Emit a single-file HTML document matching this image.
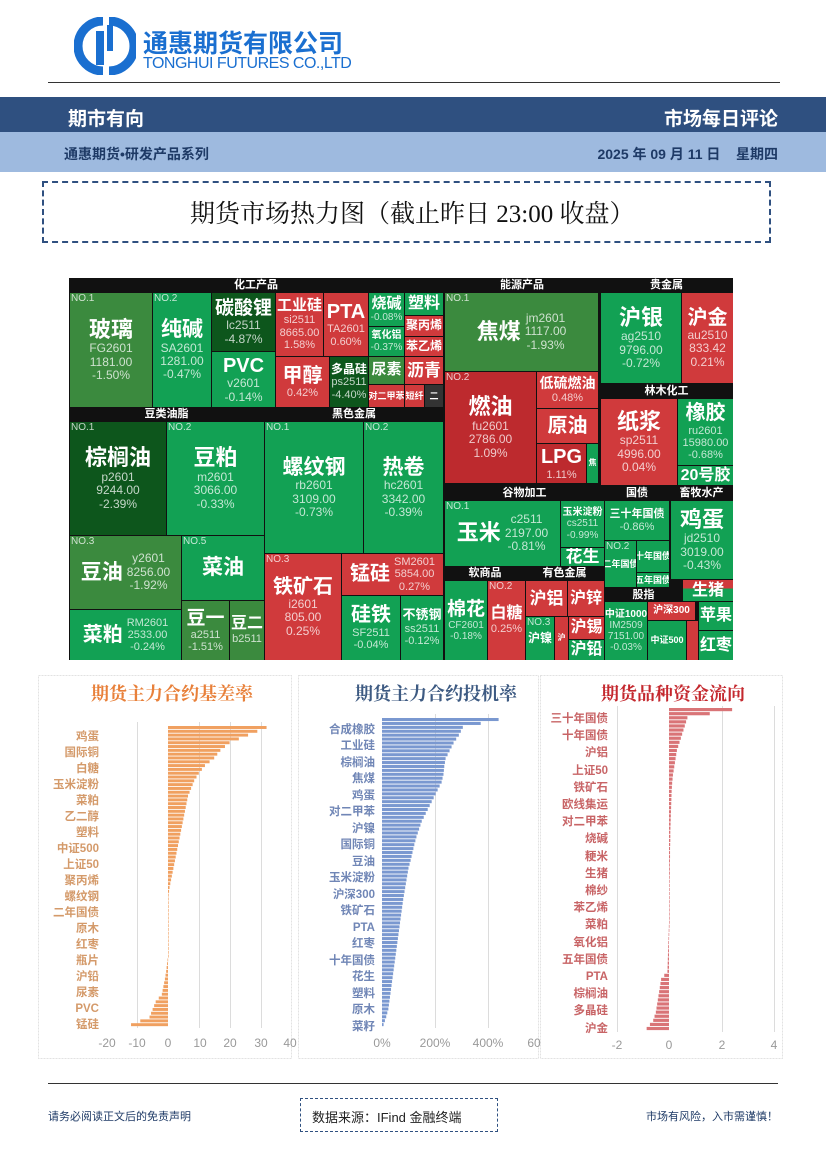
<!DOCTYPE html>
<html><head><meta charset="utf-8">
<style>
*{margin:0;padding:0;box-sizing:border-box}
body{width:826px;height:1169px;background:#fff;position:relative;overflow:hidden;font-family:"Liberation Sans","Noto Sans CJK SC",sans-serif}
.a{position:absolute}
.c{position:absolute;color:#fff;text-align:center;display:flex;flex-direction:column;justify-content:center;align-items:center;overflow:hidden;line-height:1.12;white-space:nowrap}
.r{flex-direction:row;gap:4px}
.n{font-weight:bold}
.s{font-size:12px;opacity:.75}
.no{position:absolute;left:1px;top:0;font-size:10px;opacity:.75}
.G{background:#12a154}.M{background:#3b8a3e}.D{background:#0d561c}.R{background:#d03a3c}.R2{background:#bd2a2e}
.h{position:absolute;color:#fff;font-size:11px;font-weight:bold;text-align:center;line-height:14px;height:14px}
</style></head><body>
<!-- header -->
<svg class="a" style="left:74px;top:17px" width="62" height="58" viewBox="0 0 62 58">
<path d="M29 4 A25 25 0 0 0 29 54" fill="none" stroke="#1a6fd0" stroke-width="9"/>
<path d="M35 4 A25 25 0 0 1 35 54" fill="none" stroke="#1a6fd0" stroke-width="9"/>
<rect x="22" y="14" width="8" height="34" fill="#1a6fd0"/><rect x="33" y="8" width="6" height="26" fill="#1a6fd0"/>
</svg>
<div class="a" style="left:143px;top:24px;font-size:25px;font-weight:bold;color:#1a6fd0;letter-spacing:0px">通惠期货有限公司</div>
<div class="a" style="left:143px;top:55px;font-size:16px;color:#1a6fd0;letter-spacing:-0.5px">TONGHUI FUTURES CO.,LTD</div>
<div class="a" style="left:48px;top:82px;width:732px;height:1px;background:#333"></div>
<div class="a" style="left:0;top:97px;width:826px;height:35px;background:#2f5080"></div>
<div class="a" style="left:68px;top:104px;font-size:19px;font-weight:bold;color:#fff">期市有向</div>
<div class="a" style="right:48px;top:104px;font-size:19px;font-weight:bold;color:#fff">市场每日评论</div>
<div class="a" style="left:0;top:132px;width:826px;height:40px;background:#9ebadf"></div>
<div class="a" style="left:64px;top:144px;font-size:14px;font-weight:bold;color:#1e3a66">通惠期货•研发产品系列</div>
<div class="a" style="right:48px;top:144px;font-size:14px;font-weight:bold;color:#1e3a66">2025 年 09 月 11 日 &nbsp;&nbsp; 星期四</div>
<div class="a" style="left:42px;top:181px;width:729px;height:62px;border:2px dashed #2f5080"></div>
<div class="a" style="left:190px;top:194px;font-size:25px;color:#111;font-family:'Liberation Serif','Noto Serif CJK SC',serif">期货市场热力图（截止昨日 23:00 收盘）</div>

<!-- treemap -->
<div class="a" style="left:69px;top:278px;width:664px;height:382px;background:#111"></div>
<div class="h" style="left:69px;top:278px;width:374px">化工产品</div>
<div class="h" style="left:69px;top:407px;width:195px">豆类油脂</div>
<div class="h" style="left:265px;top:407px;width:178px">黑色金属</div>
<div class="h" style="left:444px;top:278px;width:156px">能源产品</div>
<div class="h" style="left:600px;top:278px;width:133px">贵金属</div>
<div class="h" style="left:600px;top:384px;width:133px">林木化工</div>
<div class="h" style="left:445px;top:486px;width:159px">谷物加工</div>
<div class="h" style="left:604px;top:486px;width:66px">国债</div>
<div class="h" style="left:670px;top:486px;width:63px">畜牧水产</div>
<div class="h" style="left:445px;top:566px;width:80px">软商品</div>
<div class="h" style="left:525px;top:566px;width:79px">有色金属</div>
<div class="h" style="left:604px;top:588px;width:79px">股指</div>

<div class="c M" style="left:70px;top:293px;width:82px;height:114px"><span class="no">NO.1</span><span class="n" style="font-size:22px">玻璃</span><span class="s">FG2601</span><span class="s">1181.00</span><span class="s">-1.50%</span></div>
<div class="c G" style="left:153px;top:293px;width:58px;height:114px"><span class="no">NO.2</span><span class="n" style="font-size:21px">纯碱</span><span class="s">SA2601</span><span class="s">1281.00</span><span class="s">-0.47%</span></div>
<div class="c D" style="left:212px;top:293px;width:63px;height:58px"><span class="n" style="font-size:19px">碳酸锂</span><span class="s">lc2511</span><span class="s">-4.87%</span></div>
<div class="c G" style="left:212px;top:352px;width:63px;height:55px"><span class="n" style="font-size:20px">PVC</span><span class="s">v2601</span><span class="s">-0.14%</span></div>
<div class="c R" style="left:276px;top:293px;width:47px;height:63px"><span class="n" style="font-size:15px">工业硅</span><span class="s" style="font-size:11px">si2511</span><span class="s" style="font-size:11px">8665.00</span><span class="s" style="font-size:11px">1.58%</span></div>
<div class="c R" style="left:324px;top:293px;width:44px;height:63px"><span class="n" style="font-size:20px">PTA</span><span class="s" style="font-size:11px">TA2601</span><span class="s" style="font-size:11px">0.60%</span></div>
<div class="c R" style="left:276px;top:357px;width:53px;height:50px"><span class="n" style="font-size:20px">甲醇</span><span class="s" style="font-size:11px">0.42%</span></div>
<div class="c D" style="left:330px;top:357px;width:38px;height:50px"><span class="n" style="font-size:12px">多晶硅</span><span class="s" style="font-size:11px">ps2511</span><span class="s" style="font-size:11px">-4.40%</span></div>
<div class="c G" style="left:369px;top:293px;width:35px;height:33px"><span class="n" style="font-size:15px">烧碱</span><span class="s" style="font-size:10px">-0.08%</span></div>
<div class="c G" style="left:369px;top:327px;width:35px;height:29px"><span class="n" style="font-size:10px">氧化铝</span><span class="s" style="font-size:10px">-0.37%</span></div>
<div class="c G" style="left:405px;top:293px;width:38px;height:22px"><span class="n" style="font-size:16px">塑料</span></div>
<div class="c R" style="left:405px;top:316px;width:38px;height:20px"><span class="n" style="font-size:12px">聚丙烯</span></div>
<div class="c R" style="left:405px;top:337px;width:38px;height:19px"><span class="n" style="font-size:12px">苯乙烯</span></div>
<div class="c M" style="left:369px;top:357px;width:35px;height:27px"><span class="n" style="font-size:15px">尿素</span></div>
<div class="c R" style="left:369px;top:385px;width:35px;height:22px"><span class="n" style="font-size:9px">对二甲苯</span></div>
<div class="c R" style="left:405px;top:357px;width:38px;height:27px"><span class="n" style="font-size:17px">沥青</span></div>
<div class="c R" style="left:405px;top:385px;width:19px;height:22px"><span class="n" style="font-size:9px">短纤</span></div>
<div class="c" style="left:425px;top:385px;width:18px;height:22px;background:#333"><span class="n" style="font-size:9px">二</span></div>

<div class="c D" style="left:70px;top:422px;width:96px;height:113px"><span class="no">NO.1</span><span class="n" style="font-size:22px">棕榈油</span><span class="s">p2601</span><span class="s">9244.00</span><span class="s">-2.39%</span></div>
<div class="c G" style="left:167px;top:422px;width:97px;height:113px"><span class="no">NO.2</span><span class="n" style="font-size:22px">豆粕</span><span class="s">m2601</span><span class="s">3066.00</span><span class="s">-0.33%</span></div>
<div class="c M r" style="left:70px;top:536px;width:111px;height:73px"><span class="no">NO.3</span><span class="n" style="font-size:21px">豆油</span><span style="display:flex;flex-direction:column"><span class="s">y2601</span><span class="s">8256.00</span><span class="s">-1.92%</span></span></div>
<div class="c G" style="left:182px;top:536px;width:82px;height:64px"><span class="no">NO.5</span><span class="n" style="font-size:21px">菜油</span></div>
<div class="c G r" style="left:70px;top:610px;width:111px;height:50px"><span class="n" style="font-size:20px">菜粕</span><span style="display:flex;flex-direction:column"><span class="s" style="font-size:11px">RM2601</span><span class="s" style="font-size:11px">2533.00</span><span class="s" style="font-size:11px">-0.24%</span></span></div>
<div class="c M" style="left:182px;top:601px;width:47px;height:59px"><span class="n" style="font-size:19px">豆一</span><span class="s" style="font-size:11px">a2511</span><span class="s" style="font-size:11px">-1.51%</span></div>
<div class="c M" style="left:230px;top:601px;width:34px;height:59px"><span class="n" style="font-size:16px">豆二</span><span class="s" style="font-size:11px">b2511</span></div>
<div class="c G" style="left:265px;top:422px;width:98px;height:131px"><span class="no">NO.1</span><span class="n" style="font-size:21px">螺纹钢</span><span class="s">rb2601</span><span class="s">3109.00</span><span class="s">-0.73%</span></div>
<div class="c G" style="left:364px;top:422px;width:79px;height:131px"><span class="no">NO.2</span><span class="n" style="font-size:21px">热卷</span><span class="s">hc2601</span><span class="s">3342.00</span><span class="s">-0.39%</span></div>
<div class="c R" style="left:265px;top:554px;width:76px;height:106px"><span class="no">NO.3</span><span class="n" style="font-size:20px">铁矿石</span><span class="s">i2601</span><span class="s">805.00</span><span class="s">0.25%</span></div>
<div class="c R r" style="left:342px;top:554px;width:101px;height:41px"><span class="n" style="font-size:20px">锰硅</span><span style="display:flex;flex-direction:column"><span class="s" style="font-size:11px">SM2601</span><span class="s" style="font-size:11px">5854.00</span><span class="s" style="font-size:11px">0.27%</span></span></div>
<div class="c G" style="left:342px;top:596px;width:58px;height:64px"><span class="n" style="font-size:20px">硅铁</span><span class="s" style="font-size:11px">SF2511</span><span class="s" style="font-size:11px">-0.04%</span></div>
<div class="c G" style="left:401px;top:596px;width:42px;height:64px"><span class="n" style="font-size:13px">不锈钢</span><span class="s" style="font-size:11px">ss2511</span><span class="s" style="font-size:11px">-0.12%</span></div>

<div class="c M r" style="left:445px;top:293px;width:153px;height:78px"><span class="no">NO.1</span><span class="n" style="font-size:22px">焦煤</span><span style="display:flex;flex-direction:column"><span class="s">jm2601</span><span class="s">1117.00</span><span class="s">-1.93%</span></span></div>
<div class="c R2" style="left:445px;top:372px;width:91px;height:111px"><span class="no">NO.2</span><span class="n" style="font-size:22px">燃油</span><span class="s">fu2601</span><span class="s">2786.00</span><span class="s">1.09%</span></div>
<div class="c R" style="left:537px;top:372px;width:61px;height:36px"><span class="n" style="font-size:14px">低硫燃油</span><span class="s" style="font-size:11px">0.48%</span></div>
<div class="c R" style="left:537px;top:409px;width:61px;height:34px"><span class="n" style="font-size:20px">原油</span></div>
<div class="c R2" style="left:537px;top:444px;width:49px;height:39px"><span class="n" style="font-size:20px">LPG</span><span class="s" style="font-size:11px">1.11%</span></div>
<div class="c G" style="left:587px;top:444px;width:11px;height:39px"><span class="n" style="font-size:8px">焦</span></div>
<div class="c G" style="left:601px;top:293px;width:80px;height:90px"><span class="n" style="font-size:22px">沪银</span><span class="s">ag2510</span><span class="s">9796.00</span><span class="s">-0.72%</span></div>
<div class="c R" style="left:682px;top:293px;width:51px;height:90px"><span class="n" style="font-size:20px">沪金</span><span class="s">au2510</span><span class="s">833.42</span><span class="s">0.21%</span></div>
<div class="c R" style="left:601px;top:399px;width:76px;height:86px"><span class="n" style="font-size:22px">纸浆</span><span class="s">sp2511</span><span class="s">4996.00</span><span class="s">0.04%</span></div>
<div class="c G" style="left:678px;top:399px;width:55px;height:66px"><span class="n" style="font-size:20px">橡胶</span><span class="s" style="font-size:11px">ru2601</span><span class="s" style="font-size:11px">15980.00</span><span class="s" style="font-size:11px">-0.68%</span></div>
<div class="c G" style="left:678px;top:466px;width:55px;height:19px"><span class="n" style="font-size:16px">20号胶</span></div>

<div class="c G r" style="left:445px;top:501px;width:115px;height:65px"><span class="no">NO.1</span><span class="n" style="font-size:22px">玉米</span><span style="display:flex;flex-direction:column"><span class="s">c2511</span><span class="s">2197.00</span><span class="s">-0.81%</span></span></div>
<div class="c G" style="left:561px;top:501px;width:43px;height:46px"><span class="n" style="font-size:10px">玉米淀粉</span><span class="s" style="font-size:10px">cs2511</span><span class="s" style="font-size:10px">-0.99%</span></div>
<div class="c G" style="left:561px;top:548px;width:43px;height:18px"><span class="n" style="font-size:17px">花生</span></div>
<div class="c G" style="left:445px;top:581px;width:42px;height:79px"><span class="n" style="font-size:19px">棉花</span><span class="s" style="font-size:10px">CF2601</span><span class="s" style="font-size:10px">-0.18%</span></div>
<div class="c R" style="left:488px;top:581px;width:37px;height:79px"><span class="no">NO.2</span><span class="n" style="font-size:16px">白糖</span><span class="s" style="font-size:11px">0.25%</span></div>
<div class="c R" style="left:526px;top:581px;width:41px;height:35px"><span class="n" style="font-size:17px">沪铝</span></div>
<div class="c R" style="left:568px;top:581px;width:36px;height:35px"><span class="n" style="font-size:16px">沪锌</span></div>
<div class="c G" style="left:526px;top:617px;width:28px;height:43px"><span class="no">NO.3</span><span class="n" style="font-size:12px">沪镍</span></div>
<div class="c R" style="left:555px;top:617px;width:13px;height:43px"><span class="n" style="font-size:8px">沪</span></div>
<div class="c R" style="left:569px;top:617px;width:35px;height:22px"><span class="n" style="font-size:16px">沪锡</span></div>
<div class="c G" style="left:569px;top:640px;width:35px;height:20px"><span class="n" style="font-size:16px">沪铅</span></div>
<div class="c G" style="left:605px;top:501px;width:64px;height:39px"><span class="n" style="font-size:11px">三十年国债</span><span class="s" style="font-size:11px">-0.86%</span></div>
<div class="c G" style="left:605px;top:541px;width:31px;height:46px"><span class="no">NO.2</span><span class="n" style="font-size:9px">二年国债</span></div>
<div class="c G" style="left:637px;top:541px;width:32px;height:31px"><span class="n" style="font-size:9px">十年国债</span></div>
<div class="c G" style="left:637px;top:573px;width:32px;height:14px"><span class="n" style="font-size:9px">五年国债</span></div>
<div class="c G" style="left:671px;top:501px;width:62px;height:78px"><span class="n" style="font-size:22px">鸡蛋</span><span class="s">jd2510</span><span class="s">3019.00</span><span class="s">-0.43%</span></div>
<div class="c G" style="left:683px;top:580px;width:50px;height:21px;background:linear-gradient(#d03a3c 40%,#12a154 40%)"><span class="n" style="font-size:16px">生猪</span></div>
<div class="c G" style="left:605px;top:602px;width:42px;height:58px"><span class="n" style="font-size:10px">中证1000</span><span class="s" style="font-size:10px">IM2509</span><span class="s" style="font-size:10px">7151.00</span><span class="s" style="font-size:10px">-0.03%</span></div>
<div class="c R" style="left:648px;top:602px;width:47px;height:18px"><span class="n" style="font-size:10px">沪深300</span></div>
<div class="c G" style="left:648px;top:621px;width:38px;height:39px"><span class="n" style="font-size:9px">中证500</span></div>
<div class="c R" style="left:687px;top:621px;width:11px;height:39px"></div>
<div class="c G" style="left:699px;top:602px;width:34px;height:28px"><span class="n" style="font-size:16px">苹果</span></div>
<div class="c G" style="left:699px;top:631px;width:34px;height:29px"><span class="n" style="font-size:16px">红枣</span></div>

<!-- charts -->
<svg class="a" style="left:0;top:0" width="826" height="1169" font-family="Liberation Sans,Noto Sans CJK SC,sans-serif">
<rect x="38.5" y="675.5" width="253" height="383" fill="none" stroke="#e2e2e2" stroke-dasharray="2 1"/>
<rect x="298.5" y="675.5" width="240" height="383" fill="none" stroke="#e2e2e2" stroke-dasharray="2 1"/>
<rect x="540.5" y="675.5" width="242" height="383" fill="none" stroke="#e2e2e2" stroke-dasharray="2 1"/>
<text x="172" y="700" text-anchor="middle" font-size="18" font-weight="bold" fill="#e8803a" font-family="Liberation Serif,Noto Serif CJK SC,serif">期货主力合约基差率</text>
<text x="436" y="700" text-anchor="middle" font-size="18" font-weight="bold" fill="#3d5a82" font-family="Liberation Serif,Noto Serif CJK SC,serif">期货主力合约投机率</text>
<text x="673" y="700" text-anchor="middle" font-size="18" font-weight="bold" fill="#c4282e" font-family="Liberation Serif,Noto Serif CJK SC,serif">期货品种资金流向</text>
<g stroke="#dcdcdc" stroke-width="1">
<line x1="137.5" y1="722" x2="137.5" y2="1028"/><line x1="199.5" y1="722" x2="199.5" y2="1028"/><line x1="230.5" y1="722" x2="230.5" y2="1028"/><line x1="261.5" y1="722" x2="261.5" y2="1028"/>
<line x1="435.5" y1="714" x2="435.5" y2="1028"/><line x1="488.5" y1="714" x2="488.5" y2="1028"/>
<line x1="617.5" y1="706" x2="617.5" y2="1032"/><line x1="722.5" y1="706" x2="722.5" y2="1032"/><line x1="774.5" y1="706" x2="774.5" y2="1032"/>
</g>
<g id="b1" fill="#f0a060"></g><g id="b2" fill="#7a98d0"></g><g id="b3" fill="#d97477"></g>
<g font-size="12" fill="#999" text-anchor="middle">
<text x="107" y="1047">-20</text><text x="137" y="1047">-10</text><text x="168" y="1047">0</text><text x="200" y="1047">10</text><text x="230" y="1047">20</text><text x="261" y="1047">30</text><text x="290" y="1047">40</text>
<text x="382" y="1047">0%</text><text x="435" y="1047">200%</text><text x="488" y="1047">400%</text><text x="534" y="1047">60</text>
<text x="617" y="1049">-2</text><text x="669" y="1049">0</text><text x="722" y="1049">2</text><text x="774" y="1049">4</text>
</g>
<g font-size="11.5" font-weight="bold" fill="#d49a6a" text-anchor="end">
<text x="99" y="740">鸡蛋</text><text x="99" y="756">国际铜</text><text x="99" y="772">白糖</text><text x="99" y="788">玉米淀粉</text><text x="99" y="804">菜粕</text><text x="99" y="820">乙二醇</text><text x="99" y="836">塑料</text><text x="99" y="852">中证500</text><text x="99" y="868">上证50</text><text x="99" y="884">聚丙烯</text><text x="99" y="900">螺纹钢</text><text x="99" y="916">二年国债</text><text x="99" y="932">原木</text><text x="99" y="948">红枣</text><text x="99" y="964">瓶片</text><text x="99" y="980">沪铅</text><text x="99" y="996">尿素</text><text x="99" y="1012">PVC</text><text x="99" y="1028">锰硅</text>
</g>
<g font-size="11.5" font-weight="bold" fill="#7086b6" text-anchor="end">
<text x="375" y="733">合成橡胶</text><text x="375" y="749">工业硅</text><text x="375" y="766">棕榈油</text><text x="375" y="782">焦煤</text><text x="375" y="799">鸡蛋</text><text x="375" y="815">对二甲苯</text><text x="375" y="832">沪镍</text><text x="375" y="848">国际铜</text><text x="375" y="865">豆油</text><text x="375" y="881">玉米淀粉</text><text x="375" y="898">沪深300</text><text x="375" y="914">铁矿石</text><text x="375" y="931">PTA</text><text x="375" y="947">红枣</text><text x="375" y="964">十年国债</text><text x="375" y="980">花生</text><text x="375" y="997">塑料</text><text x="375" y="1013">原木</text><text x="375" y="1030">菜籽</text>
</g>
<g font-size="11.5" font-weight="bold" fill="#c86466" text-anchor="end">
<text x="608" y="722">三十年国债</text><text x="608" y="739">十年国债</text><text x="608" y="756">沪铝</text><text x="608" y="774">上证50</text><text x="608" y="791">铁矿石</text><text x="608" y="808">欧线集运</text><text x="608" y="825">对二甲苯</text><text x="608" y="842">烧碱</text><text x="608" y="860">粳米</text><text x="608" y="877">生猪</text><text x="608" y="894">棉纱</text><text x="608" y="911">苯乙烯</text><text x="608" y="928">菜粕</text><text x="608" y="946">氧化铝</text><text x="608" y="963">五年国债</text><text x="608" y="980">PTA</text><text x="608" y="997">棕榈油</text><text x="608" y="1014">多晶硅</text><text x="608" y="1032">沪金</text>
</g>
</svg>
<script>
function bars(id,x0,sc,y0,y1,v0){var vals=[];for(var k=0;k<v0.length-1;k++){vals.push(v0[k]);vals.push((v0[k]+v0[k+1])/2);}vals.push(v0[v0.length-1]);
var g=document.getElementById(id),n=vals.length,st=(y1-y0)/n,h='';
for(var i=0;i<n;i++){var v=vals[i]*sc,x=v>=0?x0:x0+v,w=Math.abs(v);if(w<0.6)w=0.6;h+='<rect x="'+x+'" y="'+(y0+i*st)+'" width="'+w+'" height="'+(st*0.78)+'"/>';}
g.innerHTML=h;}
bars('b1',168,3.08,726,1027,[32,26,20,17,15,12,10,8.5,7.5,6.5,6,5.5,5,4.5,4,3.5,3,2.5,2,1.5,1,0.5,0.2,0,0,0,0,0,0,0,0,-0.3,-0.6,-1,-1.5,-2,-4,-5,-6,-12]);
bars('b2',382,0.265,718,1027,[440,305,290,270,255,240,235,232,225,210,195,180,165,150,140,130,122,115,108,100,95,90,85,80,76,72,68,64,60,56,52,48,44,40,36,32,28,24,16,6]);
bars('b3',669,26.3,708,1031,[2.4,0.7,0.6,0.5,0.4,0.3,0.25,0.2,0.15,0.12,0.1,0.09,0.08,0.07,0.06,0.05,0.05,0.04,0.04,0.03,0.03,0.02,0.02,0.01,0.01,0,0,-0.01,-0.02,-0.03,-0.04,-0.05,-0.06,-0.3,-0.35,-0.4,-0.45,-0.5,-0.6,-0.85]);
</script>

<!-- footer -->
<div class="a" style="left:48px;top:1083px;width:730px;height:1px;background:#333"></div>
<div class="a" style="left:48px;top:1108px;font-size:11px;color:#1e3a66">请务必阅读正文后的免责声明</div>
<div class="a" style="left:300px;top:1098px;width:198px;height:34px;border:1.5px dashed #2f5080"></div>
<div class="a" style="left:312px;top:1107px;font-size:13px;color:#222">数据来源：IFind 金融终端</div>
<div class="a" style="right:48px;top:1108px;font-size:11px;color:#1e3a66">市场有风险，入市需谨慎！</div>
</body></html>
